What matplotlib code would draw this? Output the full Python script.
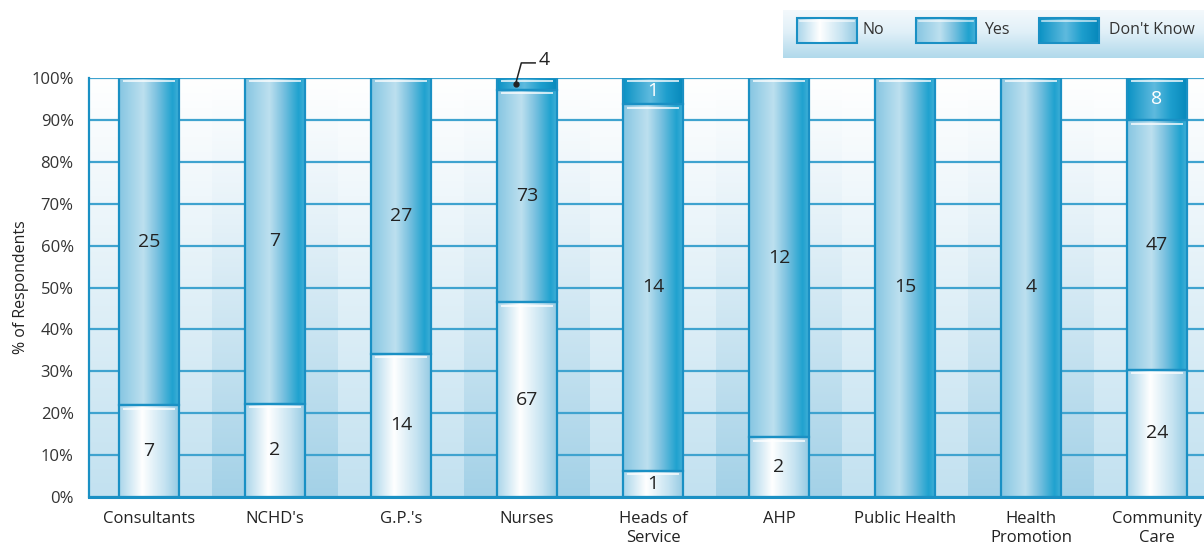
import numpy as np
import matplotlib
matplotlib.use("Agg")
import matplotlib.pyplot as plt
from matplotlib.colors import LinearSegmentedColormap
from matplotlib.patches import Rectangle
from matplotlib import transforms

plt.rcParams['font.family'] = ['Open Sans', 'DejaVu Sans']

categories = ["Consultants", "NCHD's", "G.P.'s", "Nurses", "Heads of\nService",
              "AHP", "Public Health", "Health\nPromotion", "Community\nCare"]
no_counts = [7, 2, 14, 67, 1, 2, 0, 0, 24]
yes_counts = [25, 7, 27, 73, 14, 12, 15, 4, 47]
dk_counts = [0, 0, 0, 4, 1, 0, 0, 0, 8]
series_names = ["No", "Yes", "Don't Know"]
yticks = [0, 10, 20, 30, 40, 50, 60, 70, 80, 90, 100]
ytick_labels = [f"{v}%" for v in yticks]

W, H = 1204, 545
fig = plt.figure(figsize=(W / 100, H / 100), dpi=100)
fig.patch.set_facecolor("white")

ax_left, ax_right = 89, 1217
ax_top, ax_bot = 78, 497
ax = fig.add_axes([ax_left / W, (H - ax_bot) / H, (ax_right - ax_left) / W, (ax_bot - ax_top) / H])

EDGE = "#1a90c4"
GRID = "#3fa3cf"
TXT = "#222222"

cm_no = LinearSegmentedColormap.from_list("no", [(0, "#a9d5ea"), (0.38, "#ffffff"), (0.75, "#c5e3f1"), (1, "#92c9e2")])
cm_yes = LinearSegmentedColormap.from_list("yes", [(0, "#86c6e2"), (0.4, "#bde0ef"), (0.62, "#7cc2e0"), (0.88, "#1fa2cf"), (1, "#47b1d8")])
cm_dk = LinearSegmentedColormap.from_list("dk", [(0, "#0a92c4"), (0.45, "#5fbade"), (0.72, "#1d9ecd"), (1, "#0688bb")])
cmaps = [cm_no, cm_yes, cm_dk]

grad = np.linspace(0, 1, 256).reshape(1, -1)

xl = (-0.476, 8.476)
vg = np.linspace(0, 1, 256).reshape(-1, 1)
bg_light = LinearSegmentedColormap.from_list("bgl", [(0, "#ffffff"), (0.35, "#ebf5fa"), (1, "#c2e1f0")])
bg_dark = LinearSegmentedColormap.from_list("bgd", [(0, "#ffffff"), (0.35, "#e4f1f8"), (1, "#a3d1e7")])
for i in range(len(categories)):
    cmap = bg_light if i % 2 == 0 else bg_dark
    ax.imshow(vg, cmap=cmap, extent=[i - 0.5, i + 0.5, 0, 100], aspect="auto",
              origin="upper", zorder=0, interpolation="bicubic")

for y in yticks:
    ax.axhline(y, color=GRID, lw=1.6, zorder=1)

bw = 60 / 126
counts = [no_counts, yes_counts, dk_counts]
hl = transforms.offset_copy(ax.transData, fig=fig, y=-3.5, units="dots")
for i in range(len(categories)):
    tot = no_counts[i] + yes_counts[i] + dk_counts[i]
    base = 0.0
    for s in range(3):
        c = counts[s][i]
        if c == 0:
            continue
        h = c / tot * 100
        x0, x1 = i - bw / 2, i + bw / 2
        ax.imshow(grad, cmap=cmaps[s], extent=[x0, x1, base, base + h], aspect="auto",
                  zorder=2, interpolation="bicubic")
        ax.add_patch(Rectangle((x0, base), bw, h, fill=False, edgecolor=EDGE, lw=1.6, zorder=3))
        ax.plot([x0 + 0.035, x1 - 0.035], [base + h, base + h], color="white", lw=1.4,
                alpha=0.75, transform=hl, zorder=3, solid_capstyle="butt")
        if not (i == 3 and s == 2):
            ax.text(i, base + h / 2, str(c), ha="center", va="center", fontsize=14,
                    color="white" if s == 2 else TXT, zorder=4)
        base += h

n_tot = no_counts[3] + yes_counts[3] + dk_counts[3]
ytop = 100 - dk_counts[3] / n_tot * 100 / 2
ax.plot([2.91], [ytop], "o", color=TXT, ms=3.5, zorder=5, clip_on=False)
ax.plot([2.91, 2.955, 3.065], [ytop, 103.6, 103.6], color=TXT, lw=1.1, zorder=5, clip_on=False)
ax.text(3.09, 104.4, str(dk_counts[3]), ha="left", va="center", fontsize=14, color=TXT, clip_on=False)

ax.set_xlim(*xl)
ax.set_ylim(0, 100)
ax.set_yticks(yticks)
ax.set_yticklabels(ytick_labels, fontsize=12, color="#333333")
ax.set_xticks(range(len(categories)))
ax.set_xticklabels(categories, fontsize=12, color=TXT, linespacing=1.3)
ax.tick_params(axis="y", length=0, pad=11)
ax.tick_params(axis="x", length=0, pad=10)
for sp in ["top", "right"]:
    ax.spines[sp].set_visible(False)
ax.spines["left"].set_color(EDGE)
ax.spines["left"].set_linewidth(1.6)
ax.spines["bottom"].set_color(EDGE)
ax.spines["bottom"].set_linewidth(2.2)
ax.set_ylabel("% of Respondents", fontsize=11.5, color=TXT)
ax.yaxis.set_label_coords(-60 / (ax_right - ax_left), 0.5)

lx0, lx1, ly0, ly1 = 783, 1204, 10, 58
lax = fig.add_axes([lx0 / W, (H - ly1) / H, (lx1 - lx0) / W, (ly1 - ly0) / H])
lax.axis("off")
leg_bg = LinearSegmentedColormap.from_list("lbg", [(0, "#f4f9fc"), (0.45, "#e1f0f8"), (1, "#b0d9eb")])
lax.imshow(vg, cmap=leg_bg, extent=[0, lx1 - lx0, 0, ly1 - ly0], aspect="auto", origin="upper",
           interpolation="bicubic", zorder=0)
patch_x = [14, 133, 256]
text_x = [80, 201, 326]
for s in range(3):
    px = patch_x[s]
    lax.imshow(grad, cmap=cmaps[s], extent=[px, px + 60, 15, 40], aspect="auto",
               interpolation="bicubic", zorder=1)
    lax.add_patch(Rectangle((px, 15), 60, 25, fill=False, edgecolor=EDGE, lw=1.5, zorder=2))
    lax.plot([px + 3, px + 57], [37, 37], color="white", lw=1.2, alpha=0.7, zorder=2)
    lax.text(text_x[s], 27.5, series_names[s], ha="left", va="center", fontsize=11.5, color="#333333")
lax.set_xlim(0, lx1 - lx0)
lax.set_ylim(0, ly1 - ly0)

fig.savefig("out.png", dpi=100)
